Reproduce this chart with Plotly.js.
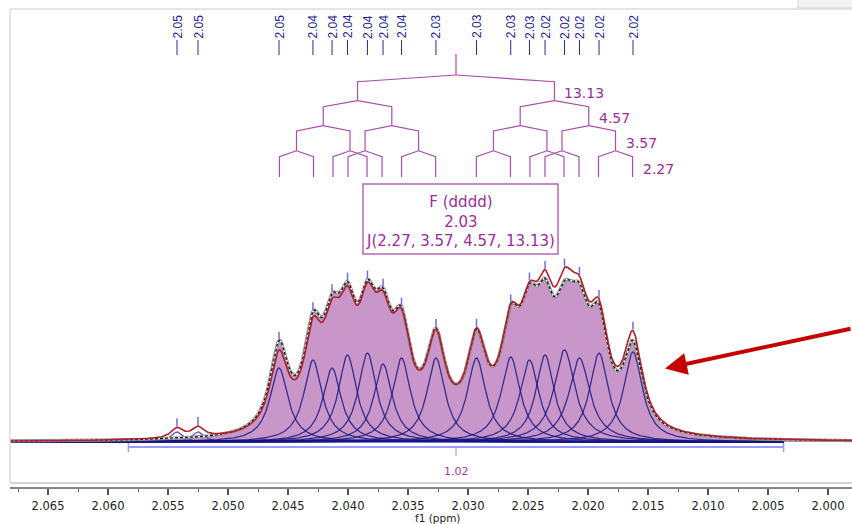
<!DOCTYPE html>
<html><head><meta charset="utf-8">
<script src="https://cdn.plot.ly/plotly-3.0.1.min.js"></script>
<style>html,body{margin:0;padding:0;background:#fff;overflow:hidden}#chart{width:852px;height:524px}</style>
</head><body><div id="chart"></div>
<script>
// ---------------- data ----------------
const specFreqMHz = 800;
const multipletCenter = 2.0310;          // ppm
const couplingsHz = [13.13, 4.57, 3.57, 2.27];
const multipletName = 'F (dddd)';
const multipletShift = '2.03';
const multipletJ = 'J(2.27, 3.57, 4.57, 13.13)';
const axisTitle = 'f1 (ppm)';

// peak-picked line positions (ppm) and their labels
const peakPpm = [2.05425, 2.05250, 2.04575, 2.04292, 2.04133, 2.04004, 2.03838, 2.03708, 2.03554, 2.03267,
                 2.02929, 2.02644, 2.02488, 2.02358, 2.02196, 2.02071, 2.01908, 2.01625];
const peakLabels = ['2.05','2.05','2.05','2.04','2.04','2.04','2.04','2.04','2.04','2.03',
                    '2.03','2.03','2.03','2.02','2.02','2.02','2.02','2.02'];
// deconvolution components: heights (arb. units) and half widths (ppm)
const fitHeights = [10, 10, 74, 82, 74, 87, 89, 78, 84, 84, 84, 85, 82, 87, 92, 84, 89, 90];
const fitHwhm    = [0.0006, 0.0006, 0.00092, 0.00092, 0.00092, 0.00092, 0.00092, 0.00092, 0.00092, 0.00092,
                    0.00094, 0.00096, 0.00096, 0.00092, 0.00105, 0.00105, 0.00095, 0.00095];
// experimental spectrum expressed by line heights at the same positions
const expHeights = [0, 0, 83, 86, 77, 89, 90, 80, 85, 85, 83, 85, 83, 82, 81, 83, 87, 81];

const integralFrom = 2.0583, integralTo = 2.0037, integralValue = '1.02';
const xRange = [2.068167, 1.998];
const compRange = [2.068167, 2.0037];

// ---------------- helpers ----------------
const lor = (x, x0, h, g) => h / (1 + Math.pow((x - x0) / g, 2));
const xs = [];
for (let x = xRange[0]; x >= xRange[1] - 1e-9; x -= 0.00005) xs.push(+x.toFixed(6));
const compXs = xs.filter(x => x >= compRange[1]);
const sumAt = (x, hs) => hs.reduce((s, h, i) => s + lor(x, peakPpm[i], h, fitHwhm[i]), 0);
const fitSum = xs.map(x => sumAt(x, fitHeights));
const expSum = xs.map(x => sumAt(x, expHeights));
const py = p => 442 - p;              // pixel row -> y data units
const pxX = p => (p - 10) / 842;      // pixel col -> paper x
const pyP = p => (487 - p) / 478;     // pixel row -> paper y

const traces = [];
traces.push({x: xs, y: expSum, mode: 'lines', fill: 'tozeroy', fillcolor: '#c896c8',
             line: {width: 0, color: 'rgba(0,0,0,0)'}, hoverinfo: 'skip'});
peakPpm.forEach((p, i) => {
  traces.push({x: compXs, y: compXs.map(x => lor(x, p, fitHeights[i], fitHwhm[i])), mode: 'lines',
    line: {color: i < 2 ? 'rgba(60,60,190,0.85)' : 'rgba(22,22,130,0.82)', width: 1.3}, hoverinfo: 'skip'});
});
traces.push({x: xs, y: expSum, mode: 'lines', line: {color: '#8c8c8c', width: 3.2}, hoverinfo: 'skip'});
traces.push({x: xs, y: expSum, mode: 'lines', line: {color: '#ffffff', width: 1.3}, hoverinfo: 'skip'});
traces.push({x: xs, y: expSum, mode: 'lines', line: {color: '#111', width: 1.3, dash: '3px,2px'}, hoverinfo: 'skip'});
traces.push({x: xs, y: fitSum, mode: 'lines', line: {color: '#b0202c', width: 1.6}, hoverinfo: 'skip'});

const mkX = [], mkY = [];
peakPpm.forEach(p => {
  const top = Math.max(sumAt(p, fitHeights), sumAt(p, expHeights)) + 1;
  mkX.push(p, p, null); mkY.push(top, top + 8, null);
});
traces.push({x: mkX, y: mkY, mode: 'lines', line: {color: '#6e6ee0', width: 1.5}, hoverinfo: 'skip'});
const cX = [], cY = [];
peakPpm.forEach(p => { cX.push(p, p, null); cY.push(py(40), py(55), null); });
traces.push({x: cX, y: cY, mode: 'lines', line: {color: '#2a2a90', width: 1}, hoverinfo: 'skip'});

// splitting tree
const rootTop = 54, rootBot = 75;
const lvlTop = [81.7, 106.7, 131, 156.7], lvlBot = [100.7, 125.7, 150.7, 177];
const tX = [multipletCenter, multipletCenter, null], tY = [py(rootTop), py(rootBot), null];
let nodes = [multipletCenter];
const rightmost = [];
couplingsHz.forEach((J, k) => {
  const d = J / 2 / specFreqMHz;
  const parentY = k === 0 ? rootBot : lvlBot[k - 1];
  const next = [];
  nodes.forEach(n => {
    [n + d, n - d].forEach(c => {
      tX.push(n, c, c, null); tY.push(py(parentY), py(lvlTop[k]), py(lvlBot[k]), null);
      next.push(c);
    });
  });
  nodes = next;
  rightmost.push(Math.min(...next));
});
traces.push({x: tX, y: tY, mode: 'lines', line: {color: '#aa4eaa', width: 1.2}, hoverinfo: 'skip'});

// integral bar
const iMid = (integralFrom + integralTo) / 2;
traces.push({x: [integralFrom, integralTo], y: [py(447), py(447)], mode: 'lines',
             line: {color: '#9a9aff', width: 2}, hoverinfo: 'skip'});
traces.push({x: [integralFrom, integralFrom, null, integralTo, integralTo], y: [py(443), py(452), null, py(443), py(452)],
             mode: 'lines', line: {color: '#9a9aff', width: 1.5}, hoverinfo: 'skip'});
traces.push({x: [iMid, iMid], y: [py(448), py(456)], mode: 'lines', line: {color: '#c27ec2', width: 1}, hoverinfo: 'skip'});

const annotations = [];
peakPpm.forEach((p, i) => annotations.push({x: p, y: py(26.5), xref: 'x', yref: 'y', text: peakLabels[i],
  textangle: -90, showarrow: false, font: {family: 'Liberation Sans, Arial', size: 12, color: '#26268e'}}));
couplingsHz.forEach((J, k) => annotations.push({x: rightmost[k], y: py((lvlTop[k] + lvlBot[k]) / 2 + 2), xref: 'x', yref: 'y',
  text: J.toFixed(2), xanchor: 'left', xshift: 8, showarrow: false,
  font: {family: 'DejaVu Sans', size: 14, color: '#9a2e9a'}}));
annotations.push({x: pxX(460.5), y: pyP(221.7), xref: 'paper', yref: 'paper',
  text: multipletName + '<br>' + multipletShift + '<br>' + multipletJ, showarrow: false, align: 'center',
  font: {family: 'DejaVu Sans', size: 15, color: '#9a2e9a'}});
annotations.push({x: iMid, y: py(471.7), xref: 'x', yref: 'y', text: integralValue, showarrow: false,
  font: {family: 'DejaVu Sans', size: 11, color: '#a03ca0'}});
annotations.push({x: pxX(665), y: pyP(368.5), xref: 'paper', yref: 'paper', text: '', showarrow: true,
  ax: 205, ay: -40, arrowcolor: '#c40000', arrowwidth: 4, arrowhead: 2, arrowsize: 1.1});
annotations.push({x: pxX(437), y: pyP(517.6), xref: 'paper', yref: 'paper', text: axisTitle, showarrow: false,
  xanchor: 'center', yanchor: 'middle', font: {family: 'DejaVu Sans', size: 10.5, color: '#222'}});

const shapes = [
  {type: 'rect', xref: 'paper', yref: 'paper', x0: pxX(363), x1: pxX(558), y0: pyP(254), y1: pyP(184),
   line: {color: '#b468b4', width: 1.5}},
  {type: 'line', xref: 'paper', yref: 'paper', x0: 0, x1: 0, y0: pyP(483), y1: 1, line: {color: '#dcdcdc', width: 1.5}},
  {type: 'line', xref: 'paper', yref: 'paper', x0: 0, x1: 1, y0: 1, y1: 1, line: {color: '#dcdcdc', width: 1.5}},
  {type: 'line', xref: 'paper', yref: 'paper', x0: 0, x1: 1, y0: pyP(483), y1: pyP(483), line: {color: '#d4d4d4', width: 2}},
  {type: 'rect', xref: 'paper', yref: 'paper', x0: pxX(798), x1: pxX(860), y0: pyP(8), y1: pyP(-5),
   fillcolor: '#f3f3f3', line: {color: '#d6d6d6', width: 1}}
];

const layout = {
  width: 852, height: 524, margin: {l: 10, r: 0, t: 9, b: 37},
  paper_bgcolor: '#fff', plot_bgcolor: '#fff', showlegend: false, hovermode: false,
  xaxis: {range: xRange, autorange: false, showgrid: false, zeroline: false,
    showline: true, linecolor: '#858585', linewidth: 2,
    ticks: 'outside', ticklen: 6, tickwidth: 1.5, tickcolor: '#555', tick0: 2.0, dtick: 0.005, tickformat: '.3f',
    minor: {ticks: 'outside', ticklen: 3, tickwidth: 1, tickcolor: '#666', dtick: 0.0025, tick0: 2.0},
    tickfont: {family: 'DejaVu Sans', size: 11.5, color: '#222'}, ticklabelstandoff: 1},
  yaxis: {range: [-45, 433], autorange: false, visible: false, fixedrange: true},
  annotations, shapes
};
Plotly.newPlot('chart', traces, layout, {displayModeBar: false, staticPlot: true});
</script></body></html>
